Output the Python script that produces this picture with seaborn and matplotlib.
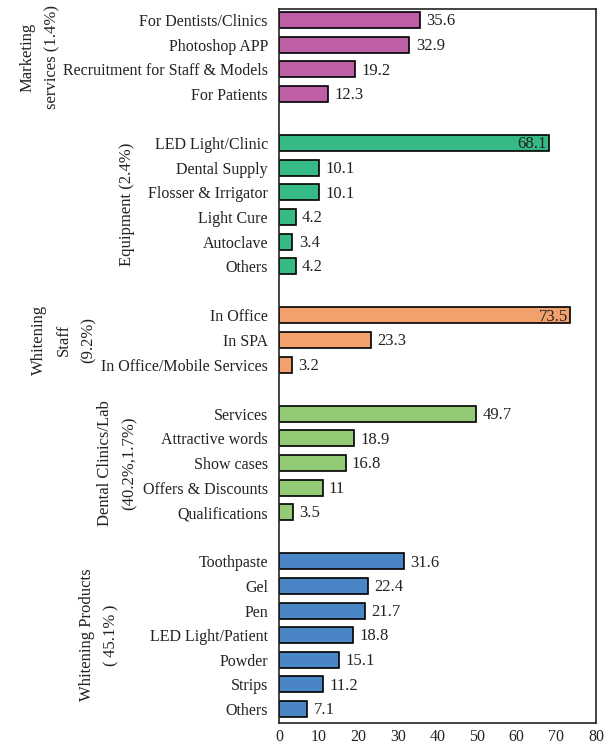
import matplotlib
matplotlib.use("Agg")
import matplotlib.pyplot as plt
import matplotlib.transforms as mtransforms
import pandas as pd
import seaborn as sns

# data, one list per group (top to bottom)
marketing_labels = ["For Dentists/Clinics", "Photoshop APP", "Recruitment for Staff & Models", "For Patients"]
marketing_values = [35.6, 32.9, 19.2, 12.3]

equipment_labels = ["LED Light/Clinic", "Dental Supply", "Flosser & Irrigator", "Light Cure", "Autoclave", "Others"]
equipment_values = [68.1, 10.1, 10.1, 4.2, 3.4, 4.2]

staff_labels = ["In Office", "In SPA", "In Office/Mobile Services"]
staff_values = [73.5, 23.3, 3.2]

clinics_labels = ["Services", "Attractive words", "Show cases", "Offers & Discounts", "Qualifications"]
clinics_values = [49.7, 18.9, 16.8, 11, 3.5]

products_labels = ["Toothpaste", "Gel", "Pen", "LED Light/Patient", "Powder", "Strips", "Others"]
products_values = [31.6, 22.4, 21.7, 18.8, 15.1, 11.2, 7.1]

group_names = ["Marketing\nservices (1.4%)", "Equipment (2.4%)", "Whitening\nStaff\n(9.2%)",
               "Dental Clinics/Lab\n(40.2%,1.7%)", "Whitening Products\n(\u200945.1%\u2009)"]
group_colors = ["#BE5FA6", "#36BA85", "#F2A16D", "#93CA75", "#4A86C6"]

groups = [
    (marketing_labels, marketing_values),
    (equipment_labels, equipment_values),
    (staff_labels, staff_values),
    (clinics_labels, clinics_values),
    (products_labels, products_values),
]

# build long table + category order with blank slots between groups
rows = []
order = []
tick_labels = []
group_centers = []
for gi, (labels, values) in enumerate(groups):
    start = len(order)
    for lab, val in zip(labels, values):
        key = f"{gi}:{lab}"
        rows.append({"key": key, "value": val, "group": group_names[gi]})
        order.append(key)
        tick_labels.append(lab)
    group_centers.append((start + len(order) - 1) / 2)
    if gi < len(groups) - 1:
        order.append(f"gap{gi}")
        tick_labels.append("")
df = pd.DataFrame(rows)

sns.set_style("white")
plt.rcParams["font.family"] = ["Liberation Serif", "DejaVu Serif"]
plt.rcParams["font.size"] = 11.5

fig = plt.figure(figsize=(6.1, 7.44), dpi=100)
ax = fig.add_axes([279 / 610, 21 / 744, 317 / 610, 714 / 744])

sns.barplot(data=df, x="value", y="key", hue="group", order=order,
            hue_order=group_names, palette=group_colors, dodge=False, saturation=1,
            width=0.65, edgecolor="black", linewidth=1.2, legend=False, ax=ax)

ax.set_xlim(0, 80)
ax.set_xticks(range(0, 81, 10))
ax.set_ylim(len(order) - 0.43, -0.45)
ax.set_yticks(range(len(order)))
ax.set_yticklabels(tick_labels)
ax.set_xlabel("")
ax.set_ylabel("")
ax.tick_params(axis="both", length=0, labelsize=11.5, colors="#222222")
ax.tick_params(axis="y", pad=8)
ax.tick_params(axis="x", pad=4)
for sp in ax.spines.values():
    sp.set_visible(True)
    sp.set_color("#222222")
    sp.set_linewidth(1.2)

# value labels
pos = {k: i for i, k in enumerate(order)}
for _, r in df.iterrows():
    y = pos[r["key"]]
    v = r["value"]
    txt = f"{v:g}"
    if v > 60:
        ax.text(v - 0.6, y + 0.05, txt, ha="right", va="center", fontsize=12, color="#222222")
    else:
        ax.text(v + 1.6, y + 0.05, txt, ha="left", va="center", fontsize=12, color="#222222")

# group labels on the left
trans = mtransforms.blended_transform_factory(fig.transFigure, ax.transData)
group_x = [40, 127, 64, 117, 99]
for name, gx, gc in zip(group_names, group_x, group_centers):
    ax.text(gx / 610, gc, name, transform=trans, rotation=90, ha="center", va="center",
            multialignment="center", fontsize=12, color="#222222", linespacing=1.72)

fig.savefig("out.png", dpi=100)
